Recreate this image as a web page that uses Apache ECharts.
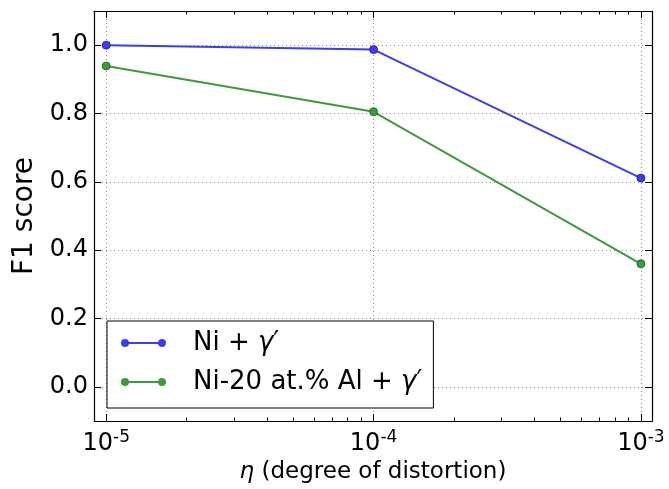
<!DOCTYPE html>
<html><head><meta charset="utf-8">
<script src="https://cdn.jsdelivr.net/npm/echarts@6/dist/echarts.min.js"></script>
<style>html,body{margin:0;padding:0;background:#fff}#c{width:669px;height:489px}</style>
</head><body><div id="c"></div>
<script>
const etaValues = [1e-5, 1e-4, 1e-3];
const niGamma = [1.0, 0.987, 0.611];
const niAlGamma = [0.939, 0.805, 0.36];
const seriesNames = ['Ni + γ′', 'Ni-20 at.% Al + γ′'];
const yTicks = [0.0, 0.2, 0.4, 0.6, 0.8, 1.0];
const xMajor = [1e-5, 1e-4, 1e-3];
const xMinor = [2e-5,3e-5,4e-5,5e-5,6e-5,7e-5,8e-5,9e-5,2e-4,3e-4,4e-4,5e-4,6e-4,7e-4,8e-4,9e-4];

const FONT = 'DejaVu Sans';
const blue = '#3d3df0', green = '#3e9a3e';
const chart = echarts.init(document.getElementById('c'), null, {renderer:'canvas'});
const grid = {left:94, top:11, right:17, bottom:68};
const xBase = {type:'log', logBase:10, min:9e-6, max:1.1e-3};
function expLabel(v){ const e = Math.round(Math.log10(v)); return '{b|10}{s|' + e + '}'; }
const icon = 'path://M4,0A4,4,0,1,1,4,8A4,4,0,1,1,4,0ZM41,0A4,4,0,1,1,41,8A4,4,0,1,1,41,0ZM4,3L41,3L41,5L4,5Z';
chart.setOption({
  animation:false,
  grid: grid,
  legend: {
    orient:'vertical', left:107, top:321, width:320,
    padding:[9,11,13,14], itemGap:13,
    backgroundColor:'#fff', borderColor:'#000', borderWidth:1,
    itemWidth:45, itemHeight:8, icon: icon, itemStyle:{borderWidth:0},
    textStyle:{fontFamily:FONT, fontSize:26, color:'#000', padding:[0,0,0,22],
      rich:{g:{fontFamily:FONT, fontSize:26, fontStyle:'italic', color:'#000'}}},
    formatter: n => n.replace('γ', '{g|γ}')
  },
  xAxis: [
    Object.assign({}, xBase, {position:'bottom', name:'{i|η} (degree of distortion)', nameLocation:'middle', nameGap:34,
      nameTextStyle:{fontFamily:FONT, fontSize:23, color:'#000', rich:{i:{fontFamily:FONT, fontSize:23, fontStyle:'italic', color:'#000'}}},
      axisLine:{show:true, onZero:false, lineStyle:{color:'#000', width:1.2}},
      axisTick:{show:true, inside:true, length:7, customValues:xMajor, lineStyle:{color:'#000'}},
      axisLabel:{customValues:xMajor, margin:8, formatter: expLabel, color:'#000',
        rich:{b:{fontFamily:FONT, fontSize:24, color:'#000'}, s:{fontFamily:FONT, fontSize:17, color:'#000', padding:[0,0,12,0]}}},
      splitLine:{show:true, lineStyle:{color:'#888', type:[1,3], width:1}},
      minorTick:{show:false}}),
    Object.assign({}, xBase, {position:'top',
      axisLine:{show:true, onZero:false, lineStyle:{color:'#000', width:1.2}},
      axisTick:{show:true, inside:true, length:7, customValues:xMajor, lineStyle:{color:'#000'}},
      axisLabel:{show:false}, splitLine:{show:false}}),
    Object.assign({}, xBase, {position:'bottom',
      axisLine:{show:false, onZero:false},
      axisTick:{show:true, inside:true, length:3.5, customValues:xMinor, lineStyle:{color:'#000'}},
      axisLabel:{show:false}, splitLine:{show:false}}),
    Object.assign({}, xBase, {position:'top',
      axisLine:{show:false, onZero:false},
      axisTick:{show:true, inside:true, length:3.5, customValues:xMinor, lineStyle:{color:'#000'}},
      axisLabel:{show:false}, splitLine:{show:false}})
  ],
  yAxis: [
    {type:'value', min:-0.1, max:1.1, position:'left',
      name:'F1 score', nameLocation:'middle', nameGap:54, nameRotate:90,
      nameTextStyle:{fontFamily:FONT, fontSize:28, color:'#000'},
      axisLine:{show:true, onZero:false, lineStyle:{color:'#000', width:1.2}},
      axisTick:{show:true, inside:true, length:7, customValues:yTicks, lineStyle:{color:'#000'}},
      axisLabel:{customValues:yTicks, margin:6, fontFamily:FONT, fontSize:24, color:'#000', formatter:v=>v.toFixed(1)},
      splitLine:{show:true, lineStyle:{color:'#888', type:[1,3], width:1}}},
    {type:'value', min:-0.1, max:1.1, position:'right',
      axisLine:{show:true, onZero:false, lineStyle:{color:'#000', width:1.2}},
      axisTick:{show:true, inside:true, length:7, customValues:yTicks, lineStyle:{color:'#000'}},
      axisLabel:{show:false}, splitLine:{show:false}}
  ],
  series: [
    {name:seriesNames[0], type:'line', xAxisIndex:0, yAxisIndex:0,
      data: etaValues.map((x,i)=>[x, niGamma[i]]),
      symbol:'circle', symbolSize:8, lineStyle:{color:blue, width:2},
      itemStyle:{color:blue, borderColor:'#1c1c90', borderWidth:0.8}},
    {name:seriesNames[1], type:'line', xAxisIndex:0, yAxisIndex:0,
      data: etaValues.map((x,i)=>[x, niAlGamma[i]]),
      symbol:'circle', symbolSize:8, lineStyle:{color:green, width:2},
      itemStyle:{color:green, borderColor:'#1d5a1d', borderWidth:0.8}}
  ]
});
</script></body></html>
